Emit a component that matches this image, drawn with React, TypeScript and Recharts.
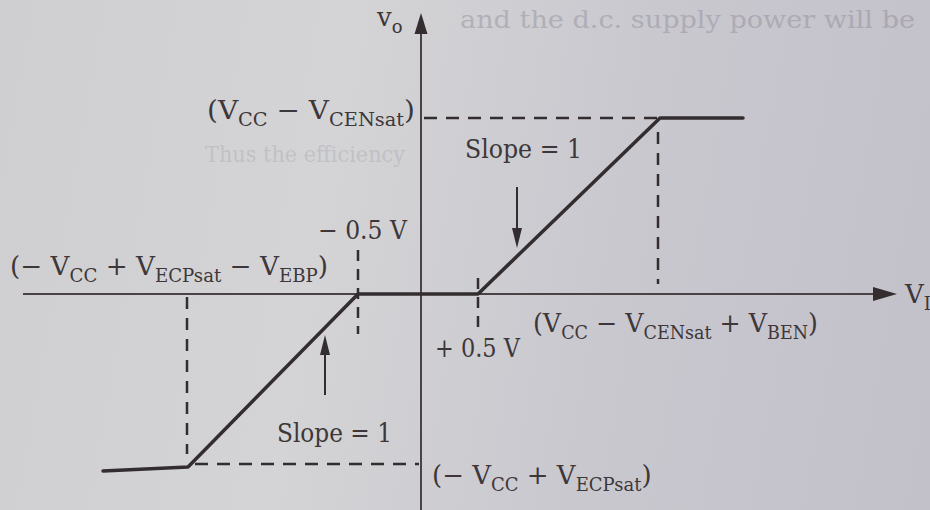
import React from 'react';
import { ComposedChart, Line, XAxis, YAxis, ReferenceLine, ReferenceDot } from 'recharts';

// Transfer characteristic (schematic units, origin where the axes cross)
const vin = [-31.8, -23.3, -6.3, 5.7, 23.9, 32.2];
const vo = [-17.7, -17.3, 0, 0, 17.6, 17.6];

// Levels that the dashed guides mark
const positiveSat = 17.6;
const negativeSat = -17.0;
const positiveKnee = 23.7;
const negativeKnee = -23.4;
const deadBandLow = -6.3;
const deadBandHigh = 5.7;

// Faint show-through text from the other side of the page
const showThrough = ['and the d.c. supply power will be', 'Thus the efficiency'];

const data = vin.map((v, i) => ({ vin: v, vo: vo[i] }));

const INK = '#332d2f';
const TEXT = '#3d3739';
const FONT = "'DejaVu Serif', 'Liberation Serif', serif";
const MAIN = 26;
const SUB = 18;

type Part = [string, boolean];

// text with subscripts, squeezed to the width measured on the picture
const RichText = ({ x, y, parts, width }: { x: number; y: number; parts: Part[]; width?: number }) => {
  let shifted = false;
  return (
    <text
      x={x}
      y={y}
      fontFamily={FONT}
      fill={TEXT}
      fontSize={MAIN}
      textLength={width}
      lengthAdjust={width ? 'spacingAndGlyphs' : undefined}
    >
      {parts.map(([t, sub], i) => {
        let dy = 0;
        if (sub && !shifted) dy = 7;
        if (!sub && shifted) dy = -7;
        shifted = sub;
        return (
          <tspan key={i} dy={dy} fontSize={sub ? SUB : MAIN}>
            {t}
          </tspan>
        );
      })}
    </text>
  );
};

// triangle arrow head, tip at (cx, cy)
const head = (dir: 'up' | 'down' | 'right', len: number, half: number) => (p: any) => {
  const { cx, cy } = p;
  let pts = '';
  if (dir === 'up') pts = `${cx},${cy} ${cx - half},${cy + len} ${cx + half},${cy + len}`;
  if (dir === 'down') pts = `${cx},${cy} ${cx - half},${cy - len} ${cx + half},${cy - len}`;
  if (dir === 'right') pts = `${cx},${cy} ${cx - len},${cy - half} ${cx - len},${cy + half}`;
  return <polygon points={pts} fill={INK} />;
};

const labels: { x: number; y: number; w?: number; parts: Part[] }[] = [
  { x: -4.4, y: 26.8, parts: [['v', false], ['o', true]] },
  { x: -21.4, y: 17.5, w: 208, parts: [['(V', false], ['CC', true], [' − V', false], ['CENsat', true], [')', false]] },
  { x: 4.4, y: 13.6, w: 117, parts: [['Slope = 1', false]] },
  { x: -10.3, y: 5.5, w: 89, parts: [['− 0.5 V', false]] },
  {
    x: -41.1,
    y: 1.9,
    w: 318,
    parts: [['(− V', false], ['CC', true], [' + V', false], ['ECPsat', true], [' − V', false], ['EBP', true], [')', false]],
  },
  { x: 1.4, y: -6.3, w: 85, parts: [['+ 0.5 V', false]] },
  {
    x: 11.2,
    y: -3.8,
    w: 285,
    parts: [['(V', false], ['CC', true], [' − V', false], ['CENsat', true], [' + V', false], ['BEN', true], [')', false]],
  },
  { x: -14.4, y: -14.8, w: 115, parts: [['Slope = 1', false]] },
  { x: 1.1, y: -19.0, parts: [['(− V', false], ['CC', true], [' + V', false], ['ECPsat', true], [')', false]] },
  { x: 48.4, y: -0.9, parts: [['V', false], ['I', true]] },
];

const App = () => {
  return (
    <div
      style={{
        position: 'absolute',
        top: 0,
        left: 0,
        width: 930,
        height: 510,
        background: 'linear-gradient(100deg, #cfcfd1 0%, #d4d4d6 35%, #c9c8cf 65%, #c2c0c9 100%)',
      }}
    >
      <ComposedChart width={930} height={510} data={data} margin={{ top: 0, right: 0, bottom: 0, left: 0 }}>
        <XAxis dataKey="vin" type="number" domain={[-42.1, 50.9]} allowDataOverflow hide />
        <YAxis type="number" domain={[-21.6, 29.4]} allowDataOverflow hide />

        {/* faint show-through text */}
        <ReferenceDot
          x={3.9}
          y={26.6}
          r={0}
          shape={(p: any) => (
            <text x={p.cx} y={p.cy} fontFamily={FONT} fontSize={24} fill="#7d7986" opacity={0.35} textLength={455} lengthAdjust="spacingAndGlyphs">
              {showThrough[0]}
            </text>
          )}
        />
        <ReferenceDot
          x={-21.6}
          y={13.2}
          r={0}
          shape={(p: any) => (
            <text x={p.cx} y={p.cy} fontFamily={FONT} fontSize={22} fill="#7d7986" opacity={0.2} textLength={200} lengthAdjust="spacingAndGlyphs">
              {showThrough[1]}
            </text>
          )}
        />

        {/* axes */}
        <ReferenceLine segment={[{ x: -39.8, y: 0 }, { x: 45.4, y: 0 }]} stroke="#4a4244" strokeWidth={2} ifOverflow="visible" />
        <ReferenceLine segment={[{ x: 0, y: -21.6 }, { x: 0, y: 26.5 }]} stroke="#4a4244" strokeWidth={2} ifOverflow="visible" />
        <ReferenceDot x={47.6} y={0} r={0} shape={head('right', 24, 7)} />
        <ReferenceDot x={0} y={28.1} r={0} shape={head('up', 21, 6.5)} />

        {/* dashed guides */}
        <ReferenceLine segment={[{ x: 0.3, y: positiveSat }, { x: positiveKnee, y: positiveSat }]} stroke={INK} strokeWidth={2.5} strokeDasharray="13 9" ifOverflow="visible" />
        <ReferenceLine segment={[{ x: positiveKnee, y: 16.2 }, { x: positiveKnee, y: 1.0 }]} stroke={INK} strokeWidth={2.5} strokeDasharray="12 9" ifOverflow="visible" />
        <ReferenceLine segment={[{ x: -22.6, y: negativeSat }, { x: -0.2, y: negativeSat }]} stroke={INK} strokeWidth={2.5} strokeDasharray="13 9" ifOverflow="visible" />
        <ReferenceLine segment={[{ x: negativeKnee, y: -0.3 }, { x: negativeKnee, y: -16.0 }]} stroke={INK} strokeWidth={2.5} strokeDasharray="12 9" ifOverflow="visible" />
        <ReferenceLine segment={[{ x: deadBandLow, y: 4.4 }, { x: deadBandLow, y: -4.0 }]} stroke={INK} strokeWidth={2.5} strokeDasharray="11 8" ifOverflow="visible" />
        <ReferenceLine segment={[{ x: deadBandHigh, y: 1.6 }, { x: deadBandHigh, y: -4.0 }]} stroke={INK} strokeWidth={2.5} strokeDasharray="11 8" ifOverflow="visible" />

        {/* slope pointers */}
        <ReferenceLine segment={[{ x: 9.6, y: 10.7 }, { x: 9.6, y: 6.2 }]} stroke={INK} strokeWidth={2} ifOverflow="visible" />
        <ReferenceDot x={9.6} y={4.6} r={0} shape={head('down', 20, 5)} />
        <ReferenceLine segment={[{ x: -9.6, y: -5.8 }, { x: -9.6, y: -10.1 }]} stroke={INK} strokeWidth={2} ifOverflow="visible" />
        <ReferenceDot x={-9.6} y={-4.1} r={0} shape={head('up', 20, 5)} />

        <Line
          dataKey="vo"
          type="linear"
          stroke={INK}
          strokeWidth={3.5}
          strokeLinejoin="round"
          strokeLinecap="round"
          dot={false}
          activeDot={false}
          isAnimationActive={false}
        />

        {labels.map((l, i) => (
          <ReferenceDot
            key={i}
            x={l.x}
            y={l.y}
            r={0}
            ifOverflow="visible"
            shape={(p: any) => <RichText x={p.cx} y={p.cy} parts={l.parts} width={l.w} />}
          />
        ))}
      </ComposedChart>
    </div>
  );
};

export default App;
